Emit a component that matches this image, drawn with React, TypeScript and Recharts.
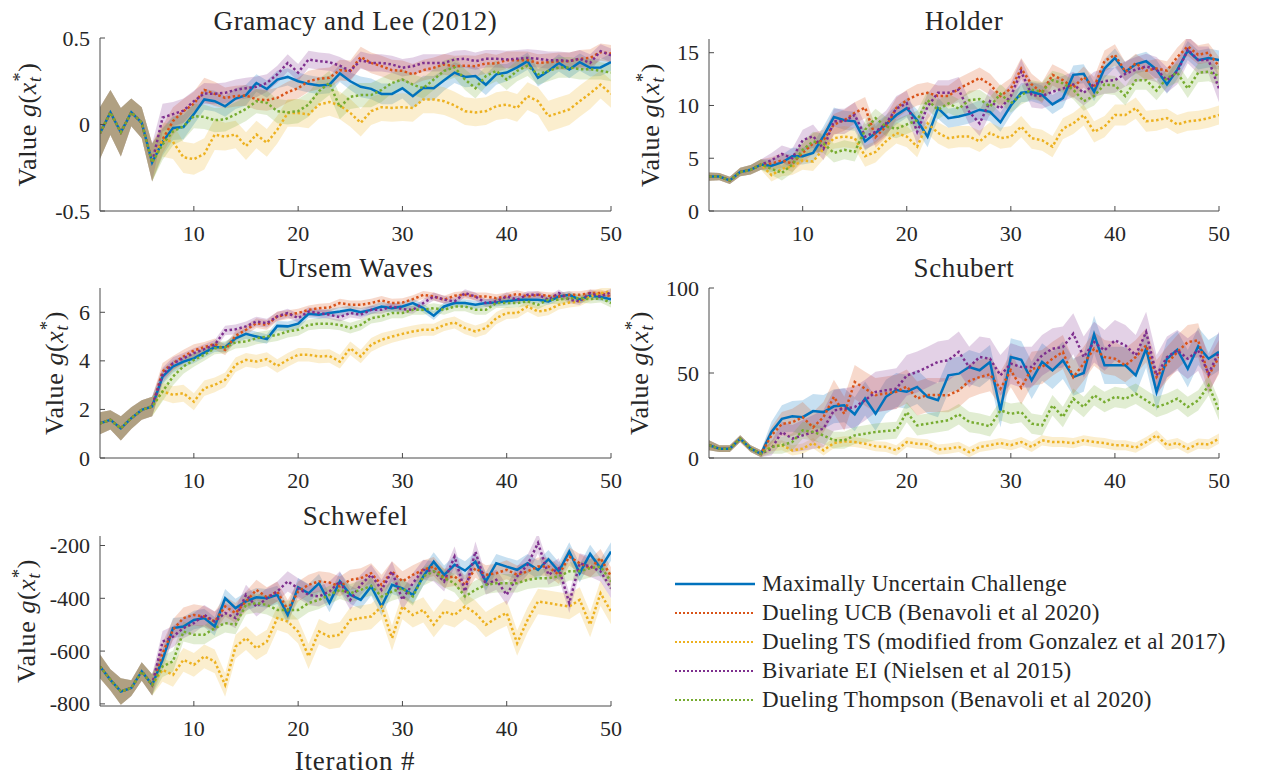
import React from "react";
import { Area, ComposedChart, Line, XAxis, YAxis } from "recharts";

const FONT = "Liberation Serif";
const TEXT_STYLE = { fontFamily: FONT };
const INK = "#262626";
const AXIS = "#4a4a4a";
const X_AXIS_HEIGHT = 40;
const Y_AXIS_WIDTH = 60;

const iterations = [
  1, 2, 3, 4, 5, 6, 7, 8, 9, 10,
  11, 12, 13, 14, 15, 16, 17, 18, 19, 20,
  21, 22, 23, 24, 25, 26, 27, 28, 29, 30,
  31, 32, 33, 34, 35, 36, 37, 38, 39, 40,
  41, 42, 43, 44, 45, 46, 47, 48, 49, 50,
];

const seriesNames = [
  "Maximally Uncertain Challenge",
  "Dueling UCB (Benavoli et al 2020)",
  "Dueling TS (modified from Gonzalez et al 2017)",
  "Bivariate EI (Nielsen et al 2015)",
  "Dueling Thompson (Benavoli et al 2020)",
];
const seriesKeys = ["muc", "ucb", "ts", "ei", "thompson"];
const seriesColors = ["#0072BD", "#D95319", "#EDB120", "#7E2F8E", "#77AC30"];

const xTicks = [10, 20, 30, 40, 50];

// Gramacy and Lee (2012)
const gramacyYTicks = [-0.5, 0, 0.5];
const gramacyYTickLabels = ["-0.5", "0", "0.5"];
const gramacyMUC = [
  -0.05, 0.07, -0.045, 0.07, 0.01, -0.22, -0.1, -0.02, -0.015, 0.06,
  0.145, 0.135, 0.105, 0.15, 0.17, 0.24, 0.205, 0.26, 0.275, 0.25,
  0.235, 0.225, 0.23, 0.295, 0.25, 0.218, 0.206, 0.177, 0.177, 0.21,
  0.164, 0.212, 0.21, 0.256, 0.3, 0.275, 0.28, 0.23, 0.29, 0.3,
  0.33, 0.366, 0.27, 0.31, 0.356, 0.318, 0.36, 0.328, 0.33, 0.36,
];
const gramacyUCB = [
  -0.05, 0.07, -0.045, 0.07, 0.01, -0.22, -0.087, 0.02, 0.077, 0.12,
  0.2, 0.177, 0.154, 0.164, 0.168, 0.145, 0.14, 0.154, 0.187, 0.21,
  0.25, 0.264, 0.27, 0.314, 0.31, 0.39, 0.356, 0.337, 0.314, 0.31,
  0.29, 0.314, 0.328, 0.347, 0.337, 0.34, 0.337, 0.353, 0.353, 0.372,
  0.372, 0.372, 0.356, 0.36, 0.366, 0.366, 0.38, 0.385, 0.418, 0.41,
];
const gramacyTS = [
  -0.05, 0.07, -0.045, 0.07, 0.01, -0.22, -0.087, -0.1, -0.19, -0.2,
  -0.17, -0.058, -0.07, -0.058, -0.125, -0.058, -0.106, -0.03, 0.067, 0.067,
  0.058, 0.115, 0.13, 0.11, 0.067, 0.01, 0.077, 0.1, 0.096, 0.1,
  0.096, 0.145, 0.145, 0.135, 0.11, 0.077, 0.07, 0.077, 0.106, 0.115,
  0.096, 0.164, 0.135, 0.048, 0.067, 0.087, 0.135, 0.18, 0.23, 0.177,
];
const gramacyEI = [
  -0.05, 0.07, -0.045, 0.07, 0.01, -0.22, 0.04, 0.06, 0.08, 0.135,
  0.18, 0.177, 0.183, 0.2, 0.21, 0.218, 0.24, 0.29, 0.356, 0.3,
  0.376, 0.366, 0.36, 0.34, 0.31, 0.372, 0.356, 0.356, 0.347, 0.328,
  0.337, 0.356, 0.356, 0.356, 0.376, 0.38, 0.366, 0.38, 0.38, 0.376,
  0.38, 0.385, 0.38, 0.372, 0.372, 0.366, 0.38, 0.356, 0.424, 0.4,
];
const gramacyThompson = [
  -0.05, 0.07, -0.045, 0.07, 0.01, -0.22, -0.115, -0.04, -0.01, 0.048,
  0.044, 0.025, 0.03, 0.058, 0.09, 0.135, 0.125, 0.077, 0.07, 0.077,
  0.115, 0.193, 0.24, 0.1, 0.16, 0.17, 0.17, 0.2, 0.24, 0.26,
  0.23, 0.21, 0.26, 0.31, 0.33, 0.26, 0.21, 0.28, 0.31, 0.26,
  0.31, 0.34, 0.29, 0.31, 0.33, 0.33, 0.32, 0.32, 0.31, 0.3,
];
const gramacySpreadMUC = [
  0.15, 0.13, 0.14, 0.08, 0.09, 0.11, 0.08, 0.07, 0.07, 0.06,
  0.06, 0.06, 0.06, 0.06, 0.06, 0.05, 0.05, 0.05, 0.05, 0.05,
  0.05, 0.05, 0.05, 0.05, 0.05, 0.06, 0.06, 0.06, 0.06, 0.06,
  0.07, 0.07, 0.07, 0.06, 0.06, 0.06, 0.06, 0.06, 0.06, 0.05,
  0.05, 0.05, 0.05, 0.05, 0.05, 0.05, 0.05, 0.05, 0.05, 0.05,
];
const gramacySpreadUCB = [
  0.15, 0.13, 0.14, 0.08, 0.09, 0.11, 0.08, 0.08, 0.07, 0.07,
  0.07, 0.07, 0.06, 0.06, 0.06, 0.06, 0.06, 0.06, 0.06, 0.06,
  0.06, 0.06, 0.06, 0.06, 0.06, 0.06, 0.06, 0.06, 0.06, 0.06,
  0.06, 0.06, 0.06, 0.06, 0.06, 0.06, 0.06, 0.06, 0.05, 0.05,
  0.05, 0.05, 0.05, 0.05, 0.05, 0.05, 0.05, 0.05, 0.05, 0.05,
];
const gramacySpreadTS = [
  0.15, 0.13, 0.14, 0.08, 0.09, 0.11, 0.1, 0.1, 0.09, 0.09,
  0.09, 0.09, 0.08, 0.08, 0.08, 0.08, 0.08, 0.08, 0.08, 0.08,
  0.08, 0.08, 0.08, 0.08, 0.08, 0.08, 0.08, 0.08, 0.08, 0.08,
  0.08, 0.08, 0.08, 0.08, 0.08, 0.08, 0.08, 0.08, 0.08, 0.08,
  0.08, 0.08, 0.08, 0.09, 0.09, 0.09, 0.09, 0.09, 0.08, 0.08,
];
const gramacySpreadEI = [
  0.15, 0.13, 0.14, 0.08, 0.09, 0.11, 0.08, 0.07, 0.07, 0.06,
  0.06, 0.06, 0.06, 0.06, 0.06, 0.06, 0.05, 0.05, 0.05, 0.05,
  0.05, 0.05, 0.05, 0.05, 0.05, 0.05, 0.05, 0.05, 0.05, 0.05,
  0.05, 0.05, 0.05, 0.05, 0.05, 0.05, 0.05, 0.05, 0.05, 0.05,
  0.05, 0.05, 0.05, 0.05, 0.05, 0.05, 0.05, 0.05, 0.04, 0.04,
];
const gramacySpreadThompson = [
  0.15, 0.13, 0.14, 0.08, 0.09, 0.11, 0.09, 0.08, 0.08, 0.07,
  0.07, 0.07, 0.07, 0.07, 0.07, 0.07, 0.07, 0.07, 0.07, 0.07,
  0.07, 0.07, 0.07, 0.07, 0.07, 0.07, 0.07, 0.07, 0.06, 0.06,
  0.06, 0.06, 0.06, 0.06, 0.06, 0.06, 0.06, 0.06, 0.06, 0.06,
  0.06, 0.06, 0.06, 0.06, 0.06, 0.06, 0.06, 0.06, 0.05, 0.05,
];

// Holder
const holderYTicks = [0, 5, 10, 15];
const holderYTickLabels = ["0", "5", "10", "15"];
const holderMUC = [
  3.26, 3.26, 2.9, 3.7, 3.9, 4.4, 4.3, 4.6, 5.2, 5.2,
  5.5, 7.1, 8.9, 8.6, 8.5, 6.6, 7.4, 8.2, 9.1, 9.75,
  8.6, 7.05, 9.75, 8.8, 8.95, 9.2, 9.6, 9.4, 8.4, 10.0,
  11.2, 11.3, 11.0, 10.1, 10.7, 12.9, 13.0, 11.3, 13.5, 14.5,
  13.2, 13.9, 14.2, 13.4, 12.0, 13.4, 15.2, 14.3, 14.5, 14.3,
];
const holderUCB = [
  3.26, 3.26, 2.9, 3.7, 3.9, 4.4, 4.5, 4.8, 4.5, 5.5,
  6.4, 6.7, 8.2, 8.6, 9.3, 9.8, 7.0, 8.0, 9.75, 10.5,
  11.0, 11.2, 10.9, 10.9, 11.6, 12.1, 12.6, 12.0, 10.9, 11.6,
  13.5, 12.0, 11.2, 12.9, 12.4, 11.7, 12.7, 11.7, 14.2, 14.8,
  13.2, 14.0, 13.3, 13.5, 13.3, 14.6, 15.6, 14.8, 15.0, 13.7,
];
const holderTS = [
  3.26, 3.26, 2.9, 3.7, 3.9, 4.4, 3.4, 4.0, 4.2, 4.8,
  4.7, 5.9, 6.9, 7.05, 6.9, 5.2, 5.6, 6.6, 7.4, 7.05,
  6.1, 8.3, 7.4, 6.9, 7.05, 7.05, 6.6, 7.4, 6.9, 7.05,
  8.0, 6.9, 6.7, 6.1, 7.8, 8.3, 9.1, 7.5, 8.0, 9.1,
  9.1, 9.75, 8.5, 8.6, 8.8, 8.2, 8.5, 8.6, 8.8, 9.1,
];
const holderEI = [
  3.26, 3.26, 2.9, 3.7, 3.9, 4.4, 4.8, 5.4, 5.0, 6.7,
  7.1, 5.9, 8.5, 8.5, 9.1, 7.05, 7.5, 8.3, 9.7, 10.2,
  7.5, 9.9, 11.2, 11.2, 11.5, 9.4, 8.3, 10.4, 9.7, 10.9,
  13.2, 11.0, 10.9, 11.3, 11.6, 12.0, 11.2, 12.0, 12.3, 12.4,
  13.0, 13.4, 13.7, 13.4, 12.4, 13.2, 15.3, 14.3, 14.3, 11.6,
];
const holderThompson = [
  3.26, 3.26, 2.9, 3.7, 3.9, 4.4, 4.0, 3.6, 4.4, 5.8,
  6.6, 6.4, 5.5, 5.8, 5.6, 7.7, 8.8, 8.0, 7.8, 8.2,
  8.6, 10.5, 9.6, 10.2, 9.7, 10.5, 10.6, 9.9, 11.1, 10.2,
  11.0, 11.5, 11.3, 12.4, 12.1, 11.5, 10.4, 10.9, 12.0, 11.9,
  10.9, 12.4, 12.4, 11.4, 12.6, 13.1, 11.6, 13.1, 13.2, 12.8,
];
const holderSpreadMUC = [
  0.4, 0.35, 0.35, 0.4, 0.45, 0.5, 0.6, 0.7, 0.8, 0.8,
  0.9, 0.9, 0.9, 0.9, 0.9, 0.9, 0.9, 0.9, 0.9, 0.9,
  1.0, 1.0, 1.0, 0.9, 0.9, 0.9, 0.9, 0.9, 0.9, 0.9,
  0.9, 0.9, 0.9, 0.9, 0.9, 0.9, 0.9, 0.9, 0.9, 0.9,
  0.9, 0.9, 0.9, 0.9, 0.9, 0.9, 0.9, 0.9, 0.9, 0.9,
];
const holderSpreadUCB = [
  0.4, 0.35, 0.35, 0.4, 0.45, 0.5, 0.6, 0.7, 0.8, 0.9,
  1.0, 1.0, 1.0, 1.0, 1.0, 1.0, 1.0, 1.0, 1.0, 1.0,
  1.0, 1.0, 1.0, 1.0, 1.0, 1.0, 1.0, 1.0, 1.0, 1.0,
  1.0, 1.0, 1.0, 1.0, 1.0, 1.0, 1.0, 1.0, 1.0, 1.0,
  0.9, 0.9, 0.9, 0.9, 0.9, 0.9, 0.9, 0.9, 0.9, 0.9,
];
const holderSpreadTS = [
  0.4, 0.35, 0.35, 0.4, 0.45, 0.5, 0.6, 0.7, 0.8, 0.9,
  0.9, 1.0, 1.0, 1.0, 1.0, 1.0, 1.0, 1.0, 1.0, 1.0,
  1.0, 1.0, 1.0, 1.0, 1.0, 1.0, 1.0, 1.0, 1.0, 1.0,
  1.0, 1.0, 1.0, 1.0, 1.0, 1.0, 1.0, 1.0, 1.0, 1.0,
  1.0, 1.0, 1.0, 1.0, 0.9, 0.9, 0.9, 0.9, 0.9, 0.9,
];
const holderSpreadEI = [
  0.4, 0.35, 0.35, 0.4, 0.45, 0.5, 0.7, 0.8, 0.9, 1.0,
  1.1, 1.1, 1.2, 1.2, 1.2, 1.2, 1.2, 1.2, 1.2, 1.2,
  1.2, 1.2, 1.2, 1.2, 1.2, 1.2, 1.2, 1.2, 1.2, 1.2,
  1.2, 1.2, 1.2, 1.2, 1.2, 1.2, 1.2, 1.2, 1.2, 1.2,
  1.2, 1.2, 1.2, 1.2, 1.2, 1.2, 1.3, 1.3, 1.3, 1.3,
];
const holderSpreadThompson = [
  0.4, 0.35, 0.35, 0.4, 0.45, 0.5, 0.6, 0.7, 0.8, 0.8,
  0.9, 0.9, 0.9, 0.9, 0.9, 0.9, 0.9, 0.9, 0.9, 0.9,
  0.9, 0.9, 0.9, 0.9, 0.9, 0.9, 0.9, 0.9, 0.9, 0.9,
  0.9, 0.9, 0.9, 0.9, 0.9, 0.9, 0.9, 0.9, 0.9, 0.9,
  0.9, 0.9, 0.9, 0.9, 0.9, 0.9, 0.9, 0.9, 0.9, 0.9,
];

// Ursem Waves
const ursemYTicks = [0, 2, 4, 6];
const ursemYTickLabels = ["0", "2", "4", "6"];
const ursemMUC = [
  1.43, 1.57, 1.22, 1.64, 1.98, 2.12, 3.35, 3.77, 3.97, 4.1,
  4.34, 4.56, 4.56, 4.93, 5.11, 5.0, 4.9, 5.44, 5.42, 5.53,
  5.94, 5.9, 5.97, 6.03, 6.1, 6.0, 6.1, 6.24, 6.17, 6.24,
  6.38, 6.17, 5.86, 6.24, 6.38, 6.38, 6.31, 6.38, 6.4, 6.45,
  6.52, 6.52, 6.52, 6.45, 6.65, 6.72, 6.52, 6.68, 6.63, 6.54,
];
const ursemUCB = [
  1.43, 1.57, 1.22, 1.64, 1.98, 2.12, 3.56, 3.9, 4.18, 4.43,
  4.56, 4.7, 4.45, 5.03, 5.28, 5.55, 5.48, 5.83, 5.9, 5.97,
  6.1, 6.17, 6.2, 6.38, 6.31, 6.31, 6.38, 6.49, 6.38, 6.4,
  6.54, 6.72, 6.65, 6.52, 6.68, 6.72, 6.65, 6.65, 6.58, 6.65,
  6.76, 6.65, 6.72, 6.68, 6.65, 6.72, 6.72, 6.79, 6.79, 6.65,
];
const ursemTS = [
  1.43, 1.57, 1.22, 1.64, 1.98, 2.12, 2.74, 2.6, 2.67, 2.32,
  2.87, 3.01, 3.22, 3.84, 4.04, 3.97, 4.07, 3.79, 4.04, 4.25,
  4.25, 4.18, 4.2, 3.97, 4.52, 4.18, 4.66, 4.87, 5.0, 5.11,
  5.21, 5.28, 5.28, 5.48, 5.58, 5.35, 5.21, 5.35, 5.76, 5.97,
  5.97, 6.24, 6.03, 6.1, 6.31, 6.4, 6.45, 6.65, 6.79, 6.86,
];
const ursemEI = [
  1.43, 1.57, 1.22, 1.64, 1.98, 2.12, 3.42, 3.9, 4.1, 4.32,
  4.48, 4.66, 5.25, 5.3, 5.42, 5.62, 5.55, 5.83, 5.97, 5.76,
  6.03, 5.97, 5.9, 5.8, 5.97, 5.9, 6.1, 6.1, 6.24, 6.13,
  6.1, 6.38, 6.65, 6.52, 6.45, 6.79, 6.65, 6.38, 6.45, 6.65,
  6.52, 6.72, 6.72, 6.52, 6.79, 6.52, 6.45, 6.79, 6.65, 6.82,
];
const ursemThompson = [
  1.43, 1.57, 1.22, 1.64, 1.98, 2.12, 2.74, 3.35, 3.77, 4.04,
  4.25, 4.52, 4.56, 4.76, 4.8, 4.93, 5.0, 5.07, 5.21, 5.28,
  5.48, 5.53, 5.53, 5.48, 5.35, 5.48, 5.76, 5.83, 5.97, 5.97,
  6.1, 6.1, 6.17, 6.1, 6.24, 6.24, 6.1, 6.1, 6.38, 6.38,
  6.38, 6.45, 6.31, 6.52, 6.52, 6.58, 6.58, 6.54, 6.58, 6.38,
];
const ursemSpreadMUC = [
  0.45, 0.4, 0.5, 0.45, 0.4, 0.4, 0.3, 0.25, 0.22, 0.2,
  0.2, 0.2, 0.2, 0.2, 0.2, 0.2, 0.2, 0.2, 0.2, 0.2,
  0.18, 0.18, 0.18, 0.18, 0.18, 0.18, 0.18, 0.18, 0.18, 0.18,
  0.18, 0.18, 0.18, 0.16, 0.16, 0.16, 0.16, 0.16, 0.16, 0.16,
  0.15, 0.15, 0.15, 0.15, 0.15, 0.15, 0.15, 0.15, 0.15, 0.15,
];
const ursemSpreadUCB = [
  0.45, 0.4, 0.5, 0.45, 0.4, 0.4, 0.35, 0.3, 0.28, 0.25,
  0.22, 0.22, 0.22, 0.2, 0.2, 0.2, 0.2, 0.2, 0.18, 0.18,
  0.18, 0.18, 0.18, 0.18, 0.18, 0.18, 0.18, 0.18, 0.18, 0.18,
  0.16, 0.16, 0.16, 0.16, 0.16, 0.16, 0.16, 0.16, 0.16, 0.16,
  0.15, 0.15, 0.15, 0.15, 0.15, 0.15, 0.15, 0.15, 0.15, 0.15,
];
const ursemSpreadTS = [
  0.45, 0.4, 0.5, 0.45, 0.4, 0.4, 0.35, 0.35, 0.35, 0.35,
  0.32, 0.3, 0.3, 0.3, 0.28, 0.28, 0.28, 0.28, 0.28, 0.28,
  0.28, 0.28, 0.28, 0.28, 0.28, 0.28, 0.28, 0.28, 0.25, 0.25,
  0.25, 0.25, 0.25, 0.25, 0.25, 0.25, 0.25, 0.25, 0.25, 0.25,
  0.22, 0.22, 0.22, 0.22, 0.2, 0.2, 0.2, 0.2, 0.2, 0.2,
];
const ursemSpreadEI = [
  0.45, 0.4, 0.5, 0.45, 0.4, 0.4, 0.3, 0.25, 0.22, 0.2,
  0.2, 0.2, 0.2, 0.2, 0.2, 0.2, 0.18, 0.18, 0.18, 0.18,
  0.18, 0.18, 0.18, 0.18, 0.18, 0.18, 0.16, 0.16, 0.16, 0.16,
  0.16, 0.16, 0.16, 0.16, 0.16, 0.16, 0.16, 0.16, 0.16, 0.16,
  0.15, 0.15, 0.15, 0.15, 0.15, 0.15, 0.15, 0.15, 0.15, 0.15,
];
const ursemSpreadThompson = [
  0.45, 0.4, 0.5, 0.45, 0.4, 0.4, 0.4, 0.35, 0.3, 0.28,
  0.25, 0.25, 0.25, 0.25, 0.25, 0.25, 0.25, 0.25, 0.25, 0.25,
  0.22, 0.22, 0.22, 0.22, 0.22, 0.22, 0.22, 0.22, 0.22, 0.22,
  0.2, 0.2, 0.2, 0.2, 0.2, 0.2, 0.2, 0.2, 0.2, 0.2,
  0.18, 0.18, 0.18, 0.18, 0.18, 0.18, 0.18, 0.18, 0.18, 0.18,
];

// Schubert
const schubertYTicks = [0, 50, 100];
const schubertYTickLabels = ["0", "50", "100"];
const schubertMUC = [
  7.5, 5.5, 5.5, 11.4, 5.5, 2.5, 15.3, 23, 24.5, 24,
  27.6, 27, 30.4, 31, 25.7, 35, 26, 36, 40, 39,
  41.8, 36, 34, 48.6, 49.6, 53.5, 51.6, 56.5, 28, 59.4,
  57.8, 45.7, 56.5, 51.6, 57.5, 47.6, 50, 72.7, 54.5, 54.5,
  54.5, 48.6, 64.3, 38.8, 58.4, 63.7, 52.5, 65.7, 58.4, 62.4,
];
const schubertUCB = [
  7.5, 5.5, 5.5, 11.4, 5.5, 2.5, 13.3, 20, 21, 24,
  18, 24, 36, 26, 44.7, 40.8, 37, 38, 39, 42,
  35, 37, 37, 36.9, 39.8, 45.3, 47.6, 49.2, 40.8, 51.6,
  41.4, 52.5, 53.5, 58.4, 62.4, 47.6, 55.5, 64.3, 59.4, 58.4,
  54.5, 59.4, 66.3, 47.6, 55.5, 62.4, 68.2, 69.2, 48.6, 59.4,
];
const schubertTS = [
  7.5, 5.5, 5.5, 11.4, 5.5, 2.5, 6.9, 7.5, 4.5, 5.5,
  8.8, 4.5, 8.8, 9.8, 9.4, 8.4, 6.9, 6.5, 4.5, 9.4,
  8.4, 8, 4.9, 5.5, 6.5, 3.5, 6.5, 7.5, 8.8, 7.5,
  9.4, 6.5, 10.4, 9.4, 9.4, 8.8, 10.4, 9.4, 8.8, 7.5,
  7.5, 6.1, 9.4, 13.3, 7.5, 8.8, 5.5, 8.4, 8, 11.4,
];
const schubertEI = [
  7.5, 5.5, 5.5, 11.4, 5.5, 2.5, 5.5, 15.3, 11.4, 13.3,
  15.3, 17.3, 28, 29, 30, 34, 38.8, 39.8, 40.8, 48.6,
  50.6, 53.5, 56.5, 57.5, 62.4, 53.5, 59.4, 58.4, 48.6, 55.5,
  53.5, 53.5, 60.4, 64.3, 65.3, 73.1, 59.4, 68.2, 63.3, 69.2,
  66.3, 60.4, 74.1, 48.6, 59.4, 63.3, 58.4, 63.3, 49.6, 62.4,
];
const schubertThompson = [
  7.5, 5.5, 5.5, 11.4, 5.5, 2.5, 6.5, 7.5, 9.4, 16.3,
  15.3, 13.3, 10.4, 10.4, 13.3, 14.3, 15.3, 15.9, 16.3, 27,
  19.2, 20.2, 21.2, 22.2, 25.7, 21.2, 20.2, 18.6, 28, 26,
  27, 20.2, 19.2, 31, 24.1, 34.9, 30, 36.9, 32.9, 35.9,
  34.9, 37.8, 33.9, 30, 32, 34.9, 30, 33.9, 42.7, 28,
];
const schubertSpreadMUC = [
  3, 2, 2, 2, 2, 2, 6, 8, 9, 10,
  10, 10, 10, 10, 10, 10, 10, 10, 10, 10,
  10, 10, 10, 10, 10, 10, 10, 10, 10, 11,
  11, 11, 11, 11, 11, 11, 11, 11, 11, 11,
  11, 11, 11, 11, 11, 11, 11, 11, 11, 11,
];
const schubertSpreadUCB = [
  3, 2, 2, 2, 2, 2, 5, 7, 8, 9,
  9, 9, 10, 10, 10, 10, 10, 10, 10, 10,
  10, 10, 10, 10, 10, 10, 10, 10, 10, 10,
  10, 10, 10, 10, 10, 10, 10, 10, 10, 10,
  10, 10, 10, 10, 10, 10, 10, 10, 10, 10,
];
const schubertSpreadTS = [
  3, 2, 2, 2, 2, 2, 3, 3, 3, 3,
  3, 3, 3, 3, 3, 3, 3, 3, 3, 3,
  3, 3, 3, 3, 3, 3, 3, 3, 3, 3,
  3, 3, 3, 3, 3, 3, 3, 3, 3, 3,
  3, 3, 3, 3, 3, 3, 3, 3, 3, 3,
];
const schubertSpreadEI = [
  3, 2, 2, 2, 2, 2, 4, 6, 8, 9,
  10, 11, 12, 12, 12, 12, 12, 12, 12, 12,
  12, 12, 12, 12, 12, 12, 12, 12, 12, 12,
  12, 12, 12, 12, 12, 12, 12, 12, 12, 12,
  12, 12, 12, 12, 12, 12, 12, 12, 12, 12,
];
const schubertSpreadThompson = [
  3, 2, 2, 2, 2, 2, 4, 5, 5, 5,
  5, 5, 5, 5, 5, 5, 5, 5, 5, 6,
  6, 6, 6, 6, 6, 6, 6, 6, 6, 6,
  6, 6, 6, 6, 6, 6, 6, 6, 6, 6,
  6, 6, 6, 6, 6, 6, 6, 6, 6, 6,
];

// Schwefel
const schwefelYTicks = [-800, -600, -400, -200];
const schwefelYTickLabels = ["-800", "-600", "-400", "-200"];
const schwefelMUC = [
  -658, -709, -753, -740, -677, -728, -633, -513, -507, -482,
  -475, -507, -400, -437, -412, -396, -400, -387, -463, -358,
  -381, -343, -418, -336, -387, -406, -355, -431, -349, -362,
  -387, -317, -261, -311, -273, -295, -261, -336, -267, -280,
  -292, -267, -292, -252, -298, -223, -305, -232, -286, -223,
];
const schwefelUCB = [
  -658, -709, -753, -740, -677, -728, -608, -519, -475, -463,
  -469, -488, -431, -456, -412, -368, -396, -374, -444, -374,
  -349, -336, -340, -355, -330, -324, -305, -349, -298, -336,
  -311, -292, -280, -324, -317, -349, -286, -311, -305, -292,
  -311, -298, -280, -280, -311, -242, -267, -286, -248, -317,
];
const schwefelTS = [
  -658, -709, -753, -740, -677, -728, -671, -690, -633, -652,
  -620, -639, -728, -583, -551, -589, -564, -475, -488, -526,
  -620, -526, -545, -538, -482, -475, -469, -431, -551, -431,
  -463, -444, -500, -450, -463, -431, -456, -500, -475, -456,
  -570, -482, -412, -418, -425, -431, -406, -500, -381, -450,
];
const schwefelEI = [
  -658, -709, -753, -740, -677, -728, -564, -545, -513, -494,
  -463, -488, -456, -475, -387, -431, -400, -374, -336, -362,
  -387, -393, -374, -336, -406, -349, -311, -368, -298, -406,
  -343, -292, -298, -336, -242, -374, -223, -349, -330, -387,
  -317, -273, -191, -311, -286, -418, -267, -280, -298, -362,
];
const schwefelThompson = [
  -658, -709, -753, -740, -677, -728, -658, -639, -526, -538,
  -538, -513, -494, -500, -425, -418, -425, -444, -444, -444,
  -418, -406, -387, -368, -381, -368, -353, -393, -374, -362,
  -393, -317, -298, -324, -343, -393, -368, -349, -343, -343,
  -343, -330, -324, -324, -317, -298, -298, -286, -280, -336,
];
const schwefelSpreadMUC = [
  45, 40, 50, 30, 35, 40, 40, 38, 36, 35,
  35, 35, 35, 35, 35, 35, 35, 35, 35, 35,
  35, 35, 35, 35, 35, 35, 35, 35, 35, 35,
  35, 35, 35, 35, 35, 35, 35, 35, 35, 35,
  35, 35, 35, 35, 35, 35, 35, 35, 35, 35,
];
const schwefelSpreadUCB = [
  45, 40, 50, 30, 35, 40, 40, 40, 40, 40,
  40, 38, 38, 38, 38, 38, 38, 38, 38, 38,
  38, 38, 38, 38, 38, 38, 38, 38, 38, 38,
  36, 36, 36, 36, 36, 36, 36, 36, 36, 36,
  35, 35, 35, 35, 35, 35, 35, 35, 35, 35,
];
const schwefelSpreadTS = [
  45, 40, 50, 30, 35, 40, 45, 45, 45, 45,
  45, 45, 45, 45, 45, 45, 45, 45, 45, 45,
  48, 48, 48, 48, 48, 48, 48, 48, 48, 48,
  48, 48, 48, 48, 48, 48, 48, 48, 48, 48,
  48, 48, 48, 48, 48, 48, 48, 48, 48, 48,
];
const schwefelSpreadEI = [
  45, 40, 50, 30, 35, 40, 40, 40, 38, 38,
  38, 38, 38, 38, 38, 38, 38, 38, 38, 38,
  38, 38, 38, 38, 38, 38, 38, 38, 38, 38,
  38, 38, 38, 38, 38, 38, 38, 38, 38, 38,
  38, 38, 38, 38, 38, 38, 38, 38, 38, 38,
];
const schwefelSpreadThompson = [
  45, 40, 50, 30, 35, 40, 40, 40, 38, 36,
  36, 36, 36, 36, 36, 36, 36, 36, 36, 36,
  35, 35, 35, 35, 35, 35, 35, 35, 35, 35,
  35, 35, 35, 35, 35, 35, 35, 35, 35, 35,
  35, 35, 35, 35, 35, 35, 35, 35, 35, 35,
];

function buildRows(means: number[][], spreads: number[][]) {
  return iterations.map((it, k) => {
    const row: Record<string, any> = { it };
    seriesKeys.forEach((key, s) => {
      const m = means[s][k];
      const d = spreads[s][k];
      row[key] = m;
      row[key + "Band"] = [m - d, m + d];
    });
    return row;
  });
}

const panels = [
  {
    title: "Gramacy and Lee (2012)",
    rows: buildRows(
      [gramacyMUC, gramacyUCB, gramacyTS, gramacyEI, gramacyThompson],
      [gramacySpreadMUC, gramacySpreadUCB, gramacySpreadTS, gramacySpreadEI, gramacySpreadThompson]
    ),
    yDomain: [-0.5, 0.5],
    yTicks: gramacyYTicks,
    yTickLabels: gramacyYTickLabels,
    box: { left: 0, top: 0, width: 640, height: 255 },
    plot: { left: 100, right: 611, top: 38, bottom: 211 },
    labelX: 36,
    titleY: 30,
  },
  {
    title: "Holder",
    rows: buildRows(
      [holderMUC, holderUCB, holderTS, holderEI, holderThompson],
      [holderSpreadMUC, holderSpreadUCB, holderSpreadTS, holderSpreadEI, holderSpreadThompson]
    ),
    yDomain: [0, 16.3],
    yTicks: holderYTicks,
    yTickLabels: holderYTickLabels,
    box: { left: 640, top: 0, width: 644, height: 255 },
    plot: { left: 709, right: 1219, top: 39, bottom: 211 },
    labelX: 659,
    titleY: 30,
  },
  {
    title: "Ursem Waves",
    rows: buildRows(
      [ursemMUC, ursemUCB, ursemTS, ursemEI, ursemThompson],
      [ursemSpreadMUC, ursemSpreadUCB, ursemSpreadTS, ursemSpreadEI, ursemSpreadThompson]
    ),
    yDomain: [0, 7],
    yTicks: ursemYTicks,
    yTickLabels: ursemYTickLabels,
    box: { left: 0, top: 255, width: 640, height: 250 },
    plot: { left: 100, right: 611, top: 288, bottom: 458 },
    labelX: 63,
    titleY: 277,
  },
  {
    title: "Schubert",
    rows: buildRows(
      [schubertMUC, schubertUCB, schubertTS, schubertEI, schubertThompson],
      [schubertSpreadMUC, schubertSpreadUCB, schubertSpreadTS, schubertSpreadEI, schubertSpreadThompson]
    ),
    yDomain: [0, 100],
    yTicks: schubertYTicks,
    yTickLabels: schubertYTickLabels,
    box: { left: 640, top: 255, width: 644, height: 250 },
    plot: { left: 709, right: 1219, top: 288, bottom: 458 },
    labelX: 648,
    titleY: 277,
  },
  {
    title: "Schwefel",
    rows: buildRows(
      [schwefelMUC, schwefelUCB, schwefelTS, schwefelEI, schwefelThompson],
      [schwefelSpreadMUC, schwefelSpreadUCB, schwefelSpreadTS, schwefelSpreadEI, schwefelSpreadThompson]
    ),
    yDomain: [-808, -164],
    yTicks: schwefelYTicks,
    yTickLabels: schwefelYTickLabels,
    box: { left: 0, top: 505, width: 640, height: 273 },
    plot: { left: 100, right: 611, top: 536, bottom: 706 },
    labelX: 35,
    titleY: 525,
  },
];

function XTick(props: any) {
  const { x, y, payload } = props;
  return (
    <g>
      <line x1={x} x2={x} y1={y} y2={y - 5} stroke={AXIS} strokeWidth={1} />
      <text x={x} y={y + 30} textAnchor="middle" style={TEXT_STYLE} fontSize={22} fill={INK}>
        {payload.value}
      </text>
    </g>
  );
}

function YTick(props: any) {
  const { x, y, payload, tickValues, tickLabels } = props;
  const label = tickLabels[tickValues.indexOf(payload.value)];
  return (
    <g>
      <line x1={x} x2={x + 5} y1={y} y2={y} stroke={AXIS} strokeWidth={1} />
      <text x={x - 10} y={y + 7.5} textAnchor="end" style={TEXT_STYLE} fontSize={22} fill={INK}>
        {label}
      </text>
    </g>
  );
}

function Panel({ p }: { p: (typeof panels)[number] }) {
  const margin = {
    left: p.plot.left - p.box.left - Y_AXIS_WIDTH,
    right: p.box.left + p.box.width - p.plot.right,
    top: p.plot.top - p.box.top,
    bottom: p.box.top + p.box.height - p.plot.bottom - X_AXIS_HEIGHT,
  };
  return (
    <div style={{ position: "absolute", left: p.box.left, top: p.box.top }}>
      <ComposedChart width={p.box.width} height={p.box.height} data={p.rows} margin={margin}>
        <XAxis
          dataKey="it"
          type="number"
          domain={[1, 50]}
          ticks={xTicks}
          interval={0}
          allowDataOverflow
          height={X_AXIS_HEIGHT}
          tickSize={0}
          tickMargin={0}
          tickLine={false}
          axisLine={{ stroke: AXIS, strokeWidth: 1 }}
          tick={<XTick />}
        />
        <YAxis
          type="number"
          domain={p.yDomain}
          ticks={p.yTicks}
          interval={0}
          allowDataOverflow
          width={Y_AXIS_WIDTH}
          tickSize={0}
          tickMargin={0}
          tickLine={false}
          axisLine={{ stroke: AXIS, strokeWidth: 1 }}
          tick={<YTick tickValues={p.yTicks} tickLabels={p.yTickLabels} />}
        />
        {seriesKeys.map((key, s) => (
          <Area
            key={key + "Band"}
            dataKey={key + "Band"}
            stroke="none"
            fill={seriesColors[s]}
            fillOpacity={0.22}
            dot={false}
            activeDot={false}
            isAnimationActive={false}
          />
        ))}
        {seriesKeys.map((key, s) => (
          <Line
            key={key}
            dataKey={key}
            stroke={seriesColors[s]}
            strokeWidth={2.5}
            strokeDasharray={s === 0 ? undefined : "2.5 2.5"}
            dot={false}
            activeDot={false}
            isAnimationActive={false}
          />
        ))}
      </ComposedChart>
    </div>
  );
}

function YLabel({ x, y }: { x: number; y: number }) {
  return (
    <text
      x={x}
      y={y}
      transform={`rotate(-90 ${x} ${y})`}
      textAnchor="middle"
      style={TEXT_STYLE}
      fontSize={26}
      letterSpacing={0.6}
      fill={INK}
    >
      {"Value "}
      <tspan fontStyle="italic">g</tspan>
      <tspan>(</tspan>
      <tspan fontStyle="italic">x</tspan>
      <tspan fontStyle="italic" fontSize={18} dy={5}>t</tspan>
      <tspan fontSize={18} dx={-5} dy={-15}>*</tspan>
      <tspan dy={10}>)</tspan>
    </text>
  );
}

export default function App() {
  const legendTop = 584;
  const legendStep = 29;
  return (
    <div
      style={{
        position: "absolute",
        left: 0,
        top: 0,
        width: 1284,
        height: 778,
        background: "#ffffff",
        overflow: "hidden",
        fontFamily: FONT,
      }}
    >
      {panels.map((p) => (
        <Panel key={p.title} p={p} />
      ))}
      <svg
        width={1284}
        height={778}
        style={{ position: "absolute", left: 0, top: 0, pointerEvents: "none", fontFamily: FONT }}
      >
        {panels.map((p) => (
          <g key={p.title}>
            <text
              x={(p.plot.left + p.plot.right) / 2}
              y={p.titleY}
              textAnchor="middle"
              style={TEXT_STYLE}
              fontSize={27}
              letterSpacing={0.6}
              fill={INK}
            >
              {p.title}
            </text>
            <YLabel x={p.labelX} y={(p.plot.top + p.plot.bottom) / 2} />
          </g>
        ))}
        <text x={355} y={770} textAnchor="middle" style={TEXT_STYLE} fontSize={27} letterSpacing={0.8} fill={INK}>
          Iteration #
        </text>
        {seriesNames.map((name, s) => {
          const cy = legendTop + s * legendStep;
          return (
            <g key={name}>
              <line
                x1={675}
                x2={755}
                y1={cy}
                y2={cy}
                stroke={seriesColors[s]}
                strokeWidth={s === 0 ? 2.6 : 2}
                strokeDasharray={s === 0 ? undefined : "2 2"}
              />
              <text x={762} y={cy + 7} style={TEXT_STYLE} fontSize={23} letterSpacing={0.3} fill={INK}>
                {name}
              </text>
            </g>
          );
        })}
      </svg>
    </div>
  );
}
